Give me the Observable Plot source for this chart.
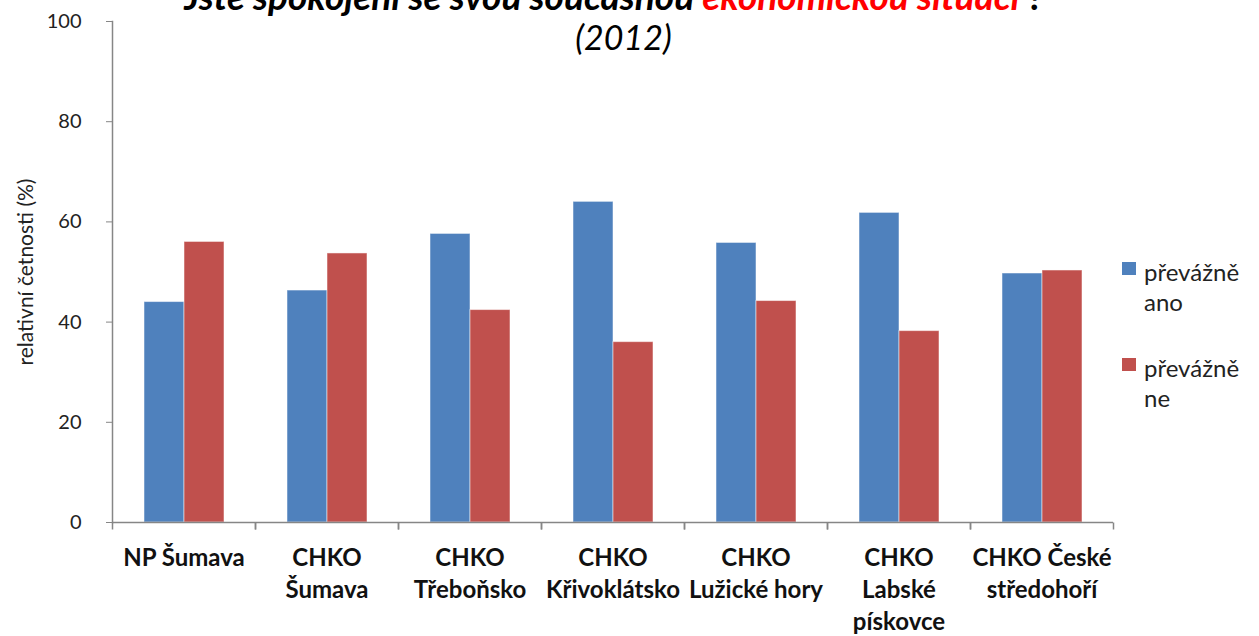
<!DOCTYPE html>
<html>
<head>
<meta charset="utf-8">
<script src="https://cdn.jsdelivr.net/npm/d3@7"></script>
<script src="https://cdn.jsdelivr.net/npm/@observablehq/plot@0.6"></script>
<style>
  html, body { margin: 0; padding: 0; background: white; }
  #wrap { position: relative; width: 1259px; height: 636px; overflow: hidden; font-family: Lato, "Open Sans", sans-serif; }
  #title1 { position: absolute; left: 0; width: 1228px; top: -23px; text-align: center; font-size: 37px; font-weight: bold; font-style: italic; line-height: 1; color: #000; white-space: nowrap; }
  #title1 .red { color: #ff0000; }
  #title2 { position: absolute; left: 0; width: 1247px; top: 20px; text-align: center; font-size: 34px; font-style: italic; line-height: 1; color: #000; }
  #legend { position: absolute; left: 1122px; top: 257px; font-size: 24px; color: #222; }
  .item { position: relative; padding-left: 22px; line-height: 30px; margin-bottom: 36px; }
  .sw { position: absolute; left: 0; top: 5px; width: 14px; height: 13px; }
</style>
</head>
<body>
<div id="wrap">
  <div id="chart"></div>
  <div id="title1">Jste spokojeni se svou současnou <span class="red">ekonomickou situací</span> ?</div>
  <div id="title2">(2012)</div>
  <div id="legend"></div>
</div>
<script>
const categories = ["NP Šumava", "CHKO\nŠumava", "CHKO\nTřeboňsko", "CHKO\nKřivoklátsko", "CHKO\nLužické hory", "CHKO\nLabské\npískovce", "CHKO České\nstředohoří"];
const series = ["převážně ano", "převážně ne"];
const legendLabels = ["převážně\nano", "převážně\nne"];
const ano = [44.0, 46.3, 57.6, 64.0, 55.8, 61.8, 49.7];
const ne = [56.0, 53.7, 42.4, 36.0, 44.2, 38.2, 50.3];
const yTicks = [0, 20, 40, 60, 80, 100];
const colors = ["#4F81BD", "#C0504D"];

const data = categories.flatMap((c, i) => [
  {cat: c, s: series[0], v: ano[i]},
  {cat: c, s: series[1], v: ne[i]}
]);

const axisGray = "#868686";
const tickSym = {draw(ctx) { ctx.moveTo(0, 0); ctx.lineTo(0, 7); }};

const chart = Plot.plot({
  width: 1259, height: 636,
  marginLeft: 112, marginRight: 146, marginTop: 21, marginBottom: 114,
  style: {fontFamily: "Lato, 'Open Sans', sans-serif", background: "white", color: "#222"},
  fx: {domain: categories, padding: 0, label: null},
  x: {domain: series, paddingInner: 0, paddingOuter: 0.78, axis: null},
  y: {domain: [0, 100]},
  color: {domain: series, range: colors},
  marks: [
    Plot.axisY({ticks: yTicks, tickSize: 6, tickPadding: 25, fontSize: 20, stroke: axisGray, label: null}),
    Plot.axisY({ticks: [], tickSize: 0, fontSize: 21, label: "relativní četnosti (%)", labelAnchor: "center", labelOffset: 94, labelArrow: "none"}),
    Plot.axisFx({anchor: "bottom", tickSize: 0, tickPadding: 21, fontSize: 24, fontWeight: "bold", lineHeight: 1.33, fill: "#111", label: null}),
    Plot.barY(data, {fx: "cat", x: "s", y: "v", fill: "s", stroke: "white", strokeOpacity: 0.5}),
    Plot.ruleY([0], {stroke: axisGray, strokeWidth: 1.5}),
    Plot.frame({anchor: "left", facetAnchor: "left", stroke: axisGray, strokeWidth: 1.5}),
    Plot.dot([0], {frameAnchor: "bottom-left", symbol: tickSym, stroke: axisGray, strokeWidth: 1.5}),
    Plot.dot([0], {frameAnchor: "bottom-right", symbol: tickSym, stroke: axisGray, strokeWidth: 1.5})
  ]
});
document.getElementById("chart").appendChild(chart);

const legend = document.getElementById("legend");
series.forEach((s, i) => {
  const item = document.createElement("div");
  item.className = "item";
  const sw = document.createElement("div");
  sw.className = "sw";
  sw.style.background = colors[i];
  item.appendChild(sw);
  legendLabels[i].split("\n").forEach(line => {
    const d = document.createElement("div");
    d.textContent = line;
    item.appendChild(d);
  });
  legend.appendChild(item);
});
</script>
</body>
</html>
